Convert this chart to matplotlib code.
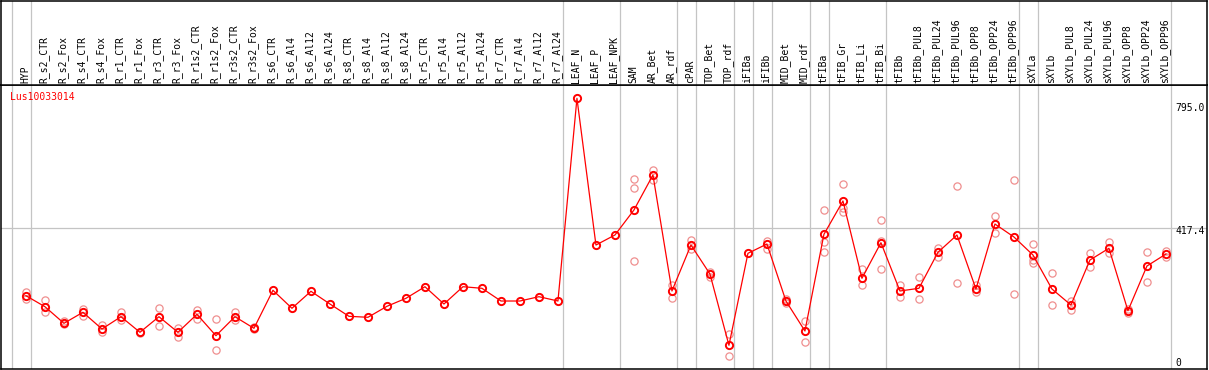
import matplotlib
matplotlib.use("Agg")
import matplotlib.pyplot as plt
import numpy as np

categories = ["HYP", "R_s2_CTR", "R_s2_Fox", "R_s4_CTR", "R_s4_Fox", "R_r1_CTR", "R_r1_Fox",
              "R_r3_CTR", "R_r3_Fox", "R_r1s2_CTR", "R_r1s2_Fox", "R_r3s2_CTR", "R_r3s2_Fox",
              "R_s6_CTR", "R_s6_Al4", "R_s6_Al12", "R_s6_Al24", "R_s8_CTR", "R_s8_Al4",
              "R_s8_Al12", "R_s8_Al24", "R_r5_CTR", "R_r5_Al4", "R_r5_Al12", "R_r5_Al24",
              "R_r7_CTR", "R_r7_Al4", "R_r7_Al12", "R_r7_Al24", "LEAF_N", "LEAF_P", "LEAF_NPK",
              "SAM", "AR_Bet", "AR_rdf", "cPAR", "TOP_Bet", "TOP_rdf", "iFIBa", "iFIBb",
              "MID_Bet", "MID_rdf", "tFIBa", "tFIB_Gr", "tFIB_Li", "tFIB_Bi", "tFIBb",
              "tFIBb_PUL8", "tFIBb_PUL24", "tFIBb_PUL96", "tFIBb_OPP8", "tFIBb_OPP24",
              "tFIBb_OPP96", "sXYLa", "sXYLb", "sXYLb_PUL8", "sXYLb_PUL24", "sXYLb_PUL96",
              "sXYLb_OPP8", "sXYLb_OPP24", "sXYLb_OPP96"]

means = [217.4, 184.8, 135.6, 168.2, 118.7, 155.1, 108.9, 155.1, 108.9, 162.3, 98.8, 155.1, 120.7,
         233.5, 180.1, 230.5, 192.8, 156.3, 153.4, 186.0, 209.7, 244.1, 192.8, 244.1, 239.4,
         201.7, 201.7, 214.5, 201.7, 803.0, 367.8, 397.5, 471.7, 575.5, 231.4, 367.8, 281.8,
         70.3, 343.2, 370.8, 201.7, 112.7, 399.6, 498.4, 269.1, 374.7, 231.4, 239.4, 346.2,
         397.5, 237.3, 430.1, 391.6, 338.2, 237.3, 189.9, 323.3, 358.1, 172.9, 305.5, 341.1]

replicates = [[229.3, 207.7], [204.7, 168.2], [143.3, 132.6], [178.0, 157.2], [130.5, 108.9],
              [168.2, 145.4], [110.0, 107.0], [180.1, 128.4], [120.7, 95.8], [175.0, 148.3],
              [148.3, 55.5], [168.0, 145.0], [123.7, 117.8],
              [], [], [], [], [], [], [], [], [], [], [], [], [], [], [], [],
              [], [], [],
              [562.7, 536.0, 319.5], [590.3, 560.7], [249.2, 209.7], [382.7, 356.0],
              [286.9, 273.8], [103.8, 39.5], [], [380.6, 356.0], [207.7, 194.9], [142.4, 81.0],
              [471.7, 377.6, 348.0], [547.9, 476.7, 464.9], [296.7, 249.2],
              [442.0, 296.7, 379.7], [249.2, 214.5], [273.8, 207.7], [359.8, 331.4],
              [542.9, 256.0], [249.2, 227.5], [453.9, 402.6], [560.7, 222.5],
              [370.8, 315.3, 323.3], [285.7, 189.9], [202.6, 175.0], [345.0, 301.7],
              [375.9, 343.2], [177.1, 165.2], [348.0, 257.2], [350.0, 331.4]]

group_edges = [-0.5, 0.5, 28.5, 31.5, 34.5, 35.5, 37.5, 38.5, 39.5, 41.5, 42.5, 45.5, 52.5, 53.5, 60.5]
y_labels = ["795.0", "417.4", "0"]
y_label_values = [795.0, 417.4, 0.0]
gene_id = "Lus10033014"

W, H = 1209, 370
fig = plt.figure(figsize=(W / 100, H / 100), dpi=100)

mono = "DejaVu Sans Mono"
xlim = ((1 - 21.2) / 19, (1207 - 21.2) / 19)
ymax = (369 - 85) / 0.3371

# main plot axes
ax = fig.add_axes([1 / W, 1 / H, 1206 / W, 284 / H])
ax.set_xlim(*xlim)
ax.set_ylim(0, ymax)
ax.set_xticks([])
ax.set_yticks([])
for s in ax.spines.values():
    s.set_linewidth(1.1)
    s.set_color("black")

for e in group_edges:
    ax.axvline(e, color="#c4c4c4", lw=0.9, zorder=1)
ax.axhline(417.4, color="#c4c4c4", lw=0.9, zorder=1)

xs = np.arange(len(categories)) + 0.25
for x, reps in zip(xs, replicates):
    if reps:
        ax.plot([x] * len(reps), reps, linestyle="none", marker="o", ms=5.2,
                mfc="none", mec="#ef8f8f", mew=0.9, zorder=2)
ax.plot(xs, means, color="red", lw=0.9, zorder=3)
ax.plot(xs, means, linestyle="none", marker="o", ms=5.2, mfc="none", mec="red", mew=1.4, zorder=4)

offsets = [-7, -3, 6.3]
for lab, val, dy in zip(y_labels, y_label_values, offsets):
    ax.annotate(lab, xy=((1175 - 21.2) / 19, val), xycoords="data",
                xytext=(0, dy), textcoords="offset pixels",
                ha="left", va="center", fontsize=7, family=mono, color="black",
                annotation_clip=False, clip_on=True)

ax.text((10 - 1) / 1206, 1 - (96.7 - 85) / 284, gene_id, transform=ax.transAxes,
        ha="left", va="center", fontsize=7, family=mono, color="red")

# header axes with labels
hx = fig.add_axes([1 / W, 285 / H, 1206 / W, 84.5 / H])
hx.set_xlim(*xlim)
hx.set_ylim(0, 84.5)
hx.set_xticks([])
hx.set_yticks([])
for s in hx.spines.values():
    s.set_linewidth(1.1)
    s.set_color("black")
for e in group_edges:
    hx.axvline(e, color="#c4c4c4", lw=0.9, zorder=1)
for i, lab in enumerate(categories):
    hx.text(i + 0.2, 2.3, lab, rotation=90, ha="center", va="bottom",
            fontsize=7, family=mono, color="black")

fig.savefig("out.png", dpi=100)
